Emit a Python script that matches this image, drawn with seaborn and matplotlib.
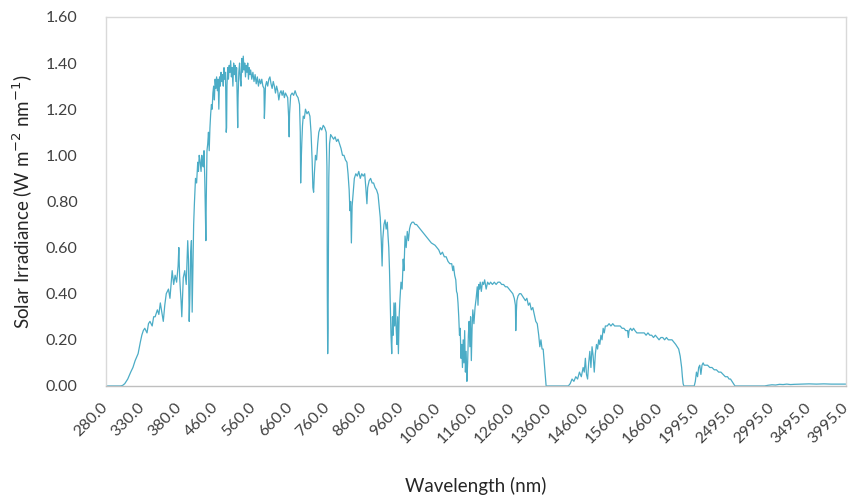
import numpy as np
import matplotlib
matplotlib.use("Agg")
import matplotlib.pyplot as plt
import seaborn as sns

# ---- data (wavelength in nm, irradiance in W m-2 nm-1) ----
wavelength_uv = [280, 290, 300, 303, 306, 310, 314, 317, 320, 324, 327, 329, 331, 333,
                 336, 338, 340, 343, 345, 347, 350, 352, 354, 356, 358, 360, 362, 365,
                 367, 370, 372, 374, 376, 378, 379, 380, 381, 382, 383, 385, 387, 389,
                 391, 392, 393, 394, 395, 396, 397, 398, 399]
irradiance_uv = [0.0, 0.0, 0.0, 0.002, 0.01, 0.03, 0.06, 0.08, 0.11, 0.14, 0.19, 0.22, 0.24, 0.25,
                 0.23, 0.27, 0.28, 0.26, 0.30, 0.30, 0.33, 0.31, 0.36, 0.32, 0.28, 0.35, 0.40, 0.42,
                 0.38, 0.50, 0.44, 0.48, 0.45, 0.52, 0.60, 0.48, 0.42, 0.37, 0.30, 0.47, 0.50, 0.44,
                 0.63, 0.55, 0.28, 0.40, 0.58, 0.63, 0.32, 0.50, 0.70]

wavelength_vis = [400, 403, 406, 409, 411, 413, 415, 418, 420, 422, 424, 426, 428, 430, 431, 432,
                  434, 436, 438, 440, 442, 444, 446, 448, 450, 452, 454, 456, 458, 460, 462, 464,
                  466, 468, 470, 472, 474, 476, 478, 480, 482, 484, 486, 487, 488, 490, 492, 494,
                  496, 498, 500, 502, 504, 506, 508, 510, 512, 514, 516, 517, 518, 520, 522, 524,
                  526, 528, 530, 532, 534, 536, 538, 540, 542, 544, 546, 548, 550, 552, 555, 558,
                  561, 564, 567, 570, 573, 576, 579, 582, 585, 588, 589, 590, 592, 595, 598, 601,
                  604, 607, 610, 613, 616, 619, 622, 625, 628, 631, 634, 637, 640, 643, 646, 649,
                  652, 655, 656, 657, 660, 664, 668, 672, 676, 680, 684, 686, 687, 688, 690, 692,
                  694, 697, 700]
irradiance_vis = [0.79, 0.90, 0.88, 0.97, 0.93, 1.00, 0.98, 0.93, 1.00, 0.96, 0.95, 1.02, 0.90, 0.70, 0.63, 0.80,
                  1.02, 1.05, 1.10, 1.02, 1.12, 1.18, 1.22, 1.20, 1.27, 1.30, 1.24, 1.33, 1.29, 1.34, 1.28, 1.33,
                  1.20, 1.34, 1.30, 1.36, 1.32, 1.35, 1.30, 1.38, 1.33, 1.36, 1.10, 1.12, 1.30, 1.38, 1.33, 1.39,
                  1.36, 1.41, 1.34, 1.38, 1.30, 1.40, 1.35, 1.39, 1.32, 1.38, 1.20, 1.12, 1.25, 1.36, 1.40, 1.33,
                  1.30, 1.42, 1.36, 1.43, 1.37, 1.40, 1.34, 1.39, 1.36, 1.40, 1.33, 1.38, 1.35, 1.37, 1.33, 1.36,
                  1.32, 1.35, 1.31, 1.34, 1.30, 1.33, 1.31, 1.33, 1.30, 1.29, 1.16, 1.20, 1.30, 1.32, 1.30, 1.33,
                  1.34, 1.31, 1.29, 1.32, 1.30, 1.27, 1.30, 1.28, 1.24, 1.27, 1.28, 1.26, 1.28, 1.25, 1.27, 1.26,
                  1.25, 1.15, 1.08, 1.18, 1.26, 1.27, 1.26, 1.28, 1.26, 1.25, 1.22, 1.10, 0.88, 0.95, 1.05, 1.13,
                  1.17, 1.16, 1.20]

wavelength_nir = [704, 708, 712, 715, 718, 720, 722, 724, 727, 730, 733, 736, 740, 744, 748, 752,
                  756, 758, 759, 760, 761, 762, 763, 765, 768, 772, 776, 780, 784, 788, 792, 796,
                  800, 804, 808, 812, 815, 818, 820, 822, 824, 826, 829, 832, 836, 840, 844, 848,
                  852, 856, 860, 863, 866, 868, 872, 876, 880, 884, 888, 892, 896, 899, 902, 905,
                  907, 909, 912, 915, 918, 921, 923, 925, 927, 929, 931, 933, 935, 937, 939, 941,
                  943, 945, 947, 949, 951, 953, 955, 958, 961, 964, 966, 969, 972, 975, 978, 981,
                  984, 988, 992, 996, 1000, 1005, 1010, 1015, 1020, 1030, 1040, 1050, 1060, 1065,
                  1070, 1075, 1080, 1085, 1090, 1095, 1098, 1100, 1103, 1106, 1108, 1110, 1112,
                  1114, 1116, 1118, 1120, 1122, 1124, 1126, 1128, 1130, 1132, 1134, 1136, 1138,
                  1140, 1142, 1144, 1146, 1148, 1150, 1152, 1155, 1158, 1161, 1164, 1166, 1168,
                  1170, 1172, 1175, 1178, 1181, 1184, 1188, 1192, 1196, 1200, 1205, 1210, 1215,
                  1220, 1225, 1230, 1235, 1240, 1245, 1250, 1255, 1260, 1264, 1267, 1268, 1269,
                  1271, 1274, 1278, 1282, 1286, 1290, 1294, 1298, 1302, 1306, 1310, 1314, 1318,
                  1322, 1326, 1330, 1333, 1336, 1339, 1342, 1345, 1348, 1350]
irradiance_nir = [1.18, 1.19, 1.17, 1.10, 0.98, 0.86, 0.84, 0.92, 1.00, 0.98, 1.05, 1.10, 1.12, 1.11, 1.13, 1.12,
                  1.10, 0.95, 0.40, 0.14, 0.25, 0.60, 0.90, 1.05, 1.09, 1.08, 1.07, 1.08, 1.06, 1.07, 1.05, 1.03,
                  1.00, 1.00, 0.98, 0.97, 0.92, 0.85, 0.76, 0.80, 0.62, 0.78, 0.84, 0.90, 0.92, 0.91, 0.93, 0.90,
                  0.92, 0.91, 0.92, 0.86, 0.79, 0.86, 0.89, 0.90, 0.88, 0.88, 0.86, 0.85, 0.83, 0.78, 0.73, 0.62,
                  0.52, 0.64, 0.70, 0.72, 0.68, 0.71, 0.65, 0.60, 0.50, 0.35, 0.22, 0.14, 0.30, 0.22, 0.36, 0.26,
                  0.36, 0.25, 0.18, 0.30, 0.14, 0.30, 0.37, 0.45, 0.42, 0.55, 0.50, 0.65, 0.60, 0.67, 0.63, 0.68,
                  0.70, 0.71, 0.71, 0.70, 0.70, 0.69, 0.68, 0.67, 0.66, 0.64, 0.62, 0.61, 0.59, 0.57,
                  0.58, 0.56, 0.56, 0.54, 0.53, 0.53, 0.50, 0.52, 0.48, 0.46, 0.41, 0.40, 0.36,
                  0.30, 0.22, 0.25, 0.12, 0.18, 0.08, 0.20, 0.10, 0.24, 0.06, 0.15, 0.02, 0.10,
                  0.22, 0.28, 0.17, 0.30, 0.11, 0.25, 0.33, 0.27, 0.34, 0.38, 0.43, 0.35, 0.44,
                  0.42, 0.45, 0.41, 0.45, 0.44, 0.46, 0.42, 0.45, 0.44, 0.45, 0.44, 0.45, 0.44,
                  0.45, 0.45, 0.44, 0.44, 0.43, 0.43, 0.42, 0.41, 0.40, 0.38, 0.35, 0.24, 0.30,
                  0.37, 0.39, 0.40, 0.40, 0.39, 0.38, 0.37, 0.38, 0.35, 0.36, 0.33, 0.34, 0.31,
                  0.28, 0.27, 0.22, 0.17, 0.20, 0.16, 0.16, 0.10, 0.04, 0.0]

wavelength_ir = [1360, 1380, 1400, 1410, 1415, 1420, 1425, 1430, 1435, 1440, 1445, 1450, 1453, 1456,
                 1459, 1462, 1465, 1468, 1471, 1474, 1477, 1480, 1483, 1486, 1489, 1492, 1495, 1498,
                 1501, 1504, 1507, 1510, 1515, 1520, 1525, 1530, 1535, 1540, 1545, 1550, 1555, 1560,
                 1565, 1570, 1572, 1574, 1578, 1582, 1586, 1590, 1595, 1600, 1605, 1610, 1615, 1620,
                 1625, 1630, 1635, 1640, 1645, 1650, 1655, 1660, 1665, 1670, 1675, 1680, 1685, 1690,
                 1695, 1700, 1720, 1740, 1760, 1780, 1790, 1800, 1810, 1850, 1900, 1950, 1965, 1980,
                 1995, 2010, 2025, 2040, 2055, 2070, 2085, 2100, 2130, 2160, 2190, 2220, 2250, 2280,
                 2310, 2340, 2370, 2400, 2420, 2440, 2460, 2480, 2500, 2600, 2700, 2800, 2900, 2950,
                 3000, 3050, 3100, 3150, 3200, 3250, 3300, 3400, 3500, 3600, 3700, 3800, 3900, 4000]
irradiance_ir = [0.0, 0.0, 0.0, 0.0, 0.01, 0.03, 0.02, 0.04, 0.03, 0.06, 0.04, 0.08, 0.06, 0.12,
                 0.05, 0.03, 0.10, 0.15, 0.08, 0.17, 0.13, 0.06, 0.14, 0.18, 0.16, 0.20, 0.18, 0.22,
                 0.20, 0.25, 0.23, 0.26, 0.26, 0.27, 0.26, 0.27, 0.26, 0.26, 0.26, 0.26, 0.25, 0.25,
                 0.24, 0.24, 0.21, 0.24, 0.25, 0.24, 0.25, 0.24, 0.23, 0.23, 0.23, 0.23, 0.23, 0.22,
                 0.23, 0.22, 0.22, 0.21, 0.22, 0.21, 0.20, 0.21, 0.21, 0.20, 0.21, 0.20, 0.20, 0.20,
                 0.19, 0.18, 0.17, 0.16, 0.13, 0.08, 0.04, 0.01, 0.0, 0.0, 0.0, 0.0, 0.02, 0.06,
                 0.04, 0.08, 0.09, 0.05, 0.09, 0.10, 0.09, 0.09, 0.09, 0.08, 0.08, 0.07, 0.07, 0.06,
                 0.06, 0.05, 0.04, 0.04, 0.03, 0.03, 0.02, 0.01, 0.0, 0.0, 0.0, 0.0, 0.0, 0.003,
                 0.005, 0.004, 0.007, 0.006, 0.008, 0.006, 0.007, 0.008, 0.009, 0.008, 0.009, 0.008, 0.008, 0.008]

tick_wavelengths = [280, 330, 380, 460, 560, 660, 760, 860, 960, 1060, 1160, 1260, 1360,
                    1460, 1560, 1660, 1995, 2495, 2995, 3495, 3995]
y_ticks = [0.0, 0.2, 0.4, 0.6, 0.8, 1.0, 1.2, 1.4, 1.6]

wavelength = wavelength_uv + wavelength_vis + wavelength_nir + wavelength_ir
irradiance = irradiance_uv + irradiance_vis + irradiance_nir + irradiance_ir

# category-style axis of the spectral table: 0.5 nm steps to 400, 1 nm to 1700, 5 nm after
grid_w = [280, 400, 1700, 4000]
grid_i = [0, 240, 1540, 2000]


def forward(w):
    return np.interp(w, grid_w, grid_i)


def inverse(i):
    return np.interp(i, grid_i, grid_w)


sns.set_style("white")
plt.rcParams["font.family"] = ["Lato", "DejaVu Sans"]

fig = plt.figure(figsize=(8.49, 4.98), dpi=100)
ax = fig.add_axes([0.1243, 0.225, 0.8722, 0.741])

sns.lineplot(x=wavelength, y=irradiance, ax=ax, color="#4bacc6", linewidth=0.9,
             estimator=None, sort=False)

ax.set_xscale("function", functions=(forward, inverse))
ax.set_xlim(280, 4002)
ax.set_ylim(0, 1.6)
ax.set_xticks(tick_wavelengths)
ax.set_xticklabels([f"{t:.1f}" for t in tick_wavelengths], rotation=45, ha="right",
                   va="center", rotation_mode="anchor", fontsize=11.5, color="#404040")
ax.minorticks_off()
ax.set_yticks(y_ticks)
ax.set_yticklabels([f"{t:.2f}" for t in y_ticks], fontsize=11.5, color="#404040")
ax.tick_params(axis="both", length=0)
ax.tick_params(axis="x", pad=14)
ax.tick_params(axis="y", pad=20)

for side in ["top", "left", "right"]:
    ax.spines[side].set_color("#d9d9d9")
    ax.spines[side].set_linewidth(1.0)
ax.spines["bottom"].set_color("#bfbfbf")
ax.spines["bottom"].set_linewidth(1.0)

ax.set_xlabel("Wavelength (nm)", fontsize=13.5, color="#262626", labelpad=22)
ax.set_ylabel("Solar Irradiance (W m$^{-2}$ nm$^{-1}$)", fontsize=13.5, color="#262626",
              labelpad=8)

fig.savefig("out.png", dpi=100)
